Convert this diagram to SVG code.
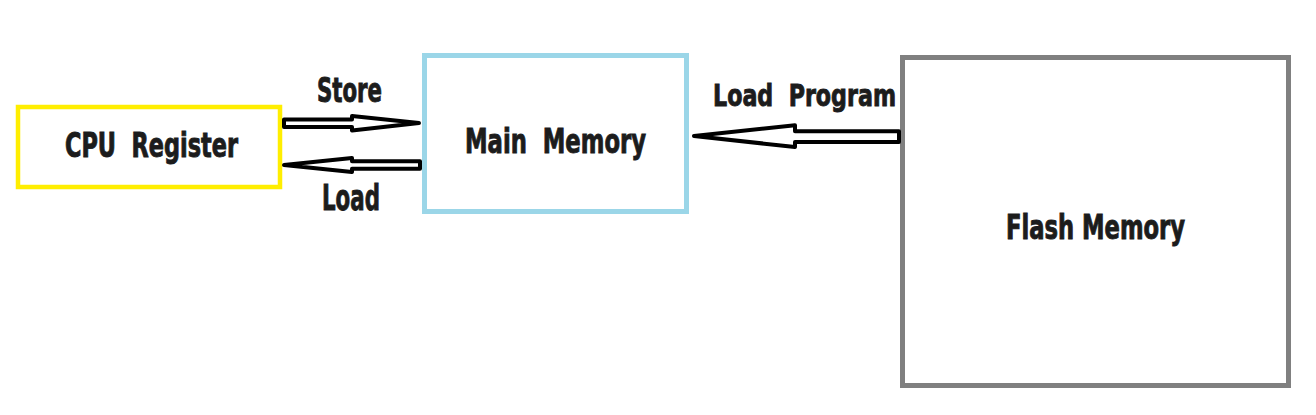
<svg xmlns="http://www.w3.org/2000/svg" width="1316" height="415" viewBox="0 0 1316 415">
<style>
.lbl{font-family:"Liberation Sans Narrow","DejaVu Sans Condensed","Liberation Sans",sans-serif;font-weight:bold;fill:#1c1c1c;stroke:#1c1c1c;stroke-width:0.9;white-space:pre;}
.box{fill:#ffffff;}
.arrow{fill:#ffffff;stroke:#000000;stroke-width:4;stroke-linejoin:round;}
</style>
<rect width="1316" height="415" fill="#ffffff"/>
<g id="cpu-register">
<rect class="box" x="18" y="107" width="262" height="80" stroke="#ffee00" stroke-width="4.5"/>
<text class="lbl" x="65" y="157" font-size="33" textLength="173" lengthAdjust="spacingAndGlyphs">CPU  Register</text>
</g>
<g id="main-memory">
<rect class="box" x="424.5" y="55.5" width="262" height="156" stroke="#9bd6e8" stroke-width="5"/>
<text class="lbl" x="465" y="153" font-size="34" textLength="181" lengthAdjust="spacingAndGlyphs">Main  Memory</text>
</g>
<g id="flash-memory">
<rect class="box" x="902.5" y="57.5" width="386" height="328" stroke="#808080" stroke-width="5"/>
<text class="lbl" x="1006" y="239" font-size="33" textLength="179" lengthAdjust="spacingAndGlyphs">Flash Memory</text>
</g>
<g id="connectors">
<polygon class="arrow" points="284,119.5 352,119.5 352,116 419,123 352,130.5 352,127 284,127"/>
<polygon class="arrow" points="420,161.3 352,161.3 352,158 284,165 352,172 352,168.7 420,168.7"/>
<polygon class="arrow" points="899,131.3 795,131.3 795,125.3 694,136 795,147 795,142 899,142"/>
<text class="lbl" x="317" y="102" font-size="34" textLength="65" lengthAdjust="spacingAndGlyphs">Store</text>
<text class="lbl" x="322" y="210" font-size="36" textLength="58" lengthAdjust="spacingAndGlyphs">Load</text>
<text class="lbl" x="713" y="106" font-size="31" textLength="183" lengthAdjust="spacingAndGlyphs">Load  Program</text>
</g>
</svg>
